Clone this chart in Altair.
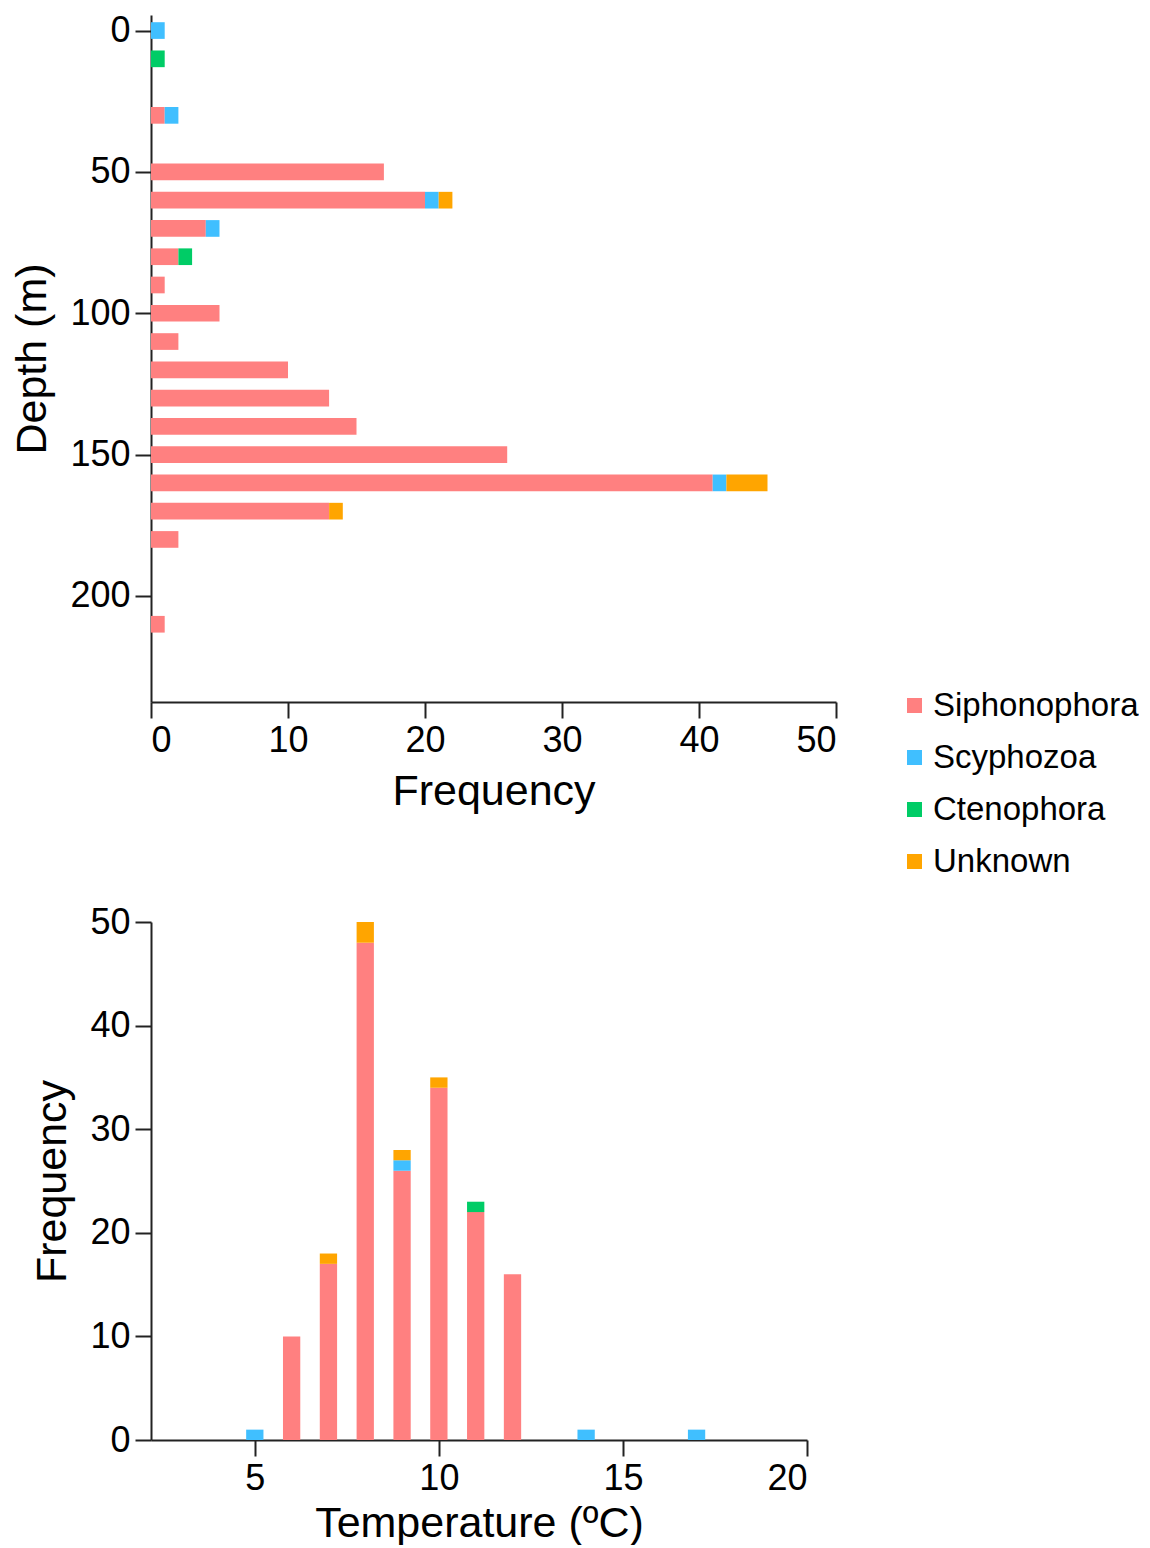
import altair as alt
import pandas as pd

species = ["Siphonophora", "Scyphozoa", "Ctenophora", "Unknown"]
colors = ["#FF8080", "#40BFFF", "#00CC66", "#FFA500"]

# Depth histogram (m)
depths = [0, 10, 20, 30, 40, 50, 60, 70, 80, 90, 100, 110, 120, 130, 140, 150, 160, 170, 180, 190, 200, 210]
siph_d = [0, 0, 0, 1, 0, 17, 20, 4, 2, 1, 5, 2, 10, 13, 15, 26, 41, 13, 2, 0, 0, 1]
scyph_d = [1, 0, 0, 1, 0, 0, 1, 1, 0, 0, 0, 0, 0, 0, 0, 0, 1, 0, 0, 0, 0, 0]
cten_d = [0, 1, 0, 0, 0, 0, 0, 0, 1, 0, 0, 0, 0, 0, 0, 0, 0, 0, 0, 0, 0, 0]
unk_d = [0, 0, 0, 0, 0, 0, 1, 0, 0, 0, 0, 0, 0, 0, 0, 0, 3, 1, 0, 0, 0, 0]

# Temperature histogram (ºC)
temps = [5, 6, 7, 8, 9, 10, 11, 12, 13, 14, 15, 16, 17]
siph_t = [0, 10, 17, 48, 26, 34, 22, 16, 0, 0, 0, 0, 0]
scyph_t = [1, 0, 0, 0, 1, 0, 0, 0, 0, 1, 0, 0, 1]
cten_t = [0, 0, 0, 0, 0, 0, 1, 0, 0, 0, 0, 0, 0]
unk_t = [0, 0, 1, 2, 1, 1, 0, 0, 0, 0, 0, 0, 0]

depth_ticks = [0, 50, 100, 150, 200]
freq_ticks_top = [0, 10, 20, 30, 40, 50]
temp_ticks = [5, 10, 15, 20]
freq_ticks_bottom = [0, 10, 20, 30, 40, 50]

rows_d = []
for k, (sp, vals) in enumerate(zip(species, [siph_d, scyph_d, cten_d, unk_d])):
    for d, v in zip(depths, vals):
        rows_d.append({"depth": d, "species": sp, "order": k, "count": v})
df_d = pd.DataFrame(rows_d)

rows_t = []
for k, (sp, vals) in enumerate(zip(species, [siph_t, scyph_t, cten_t, unk_t])):
    for t, v in zip(temps, vals):
        rows_t.append({"temp": t, "species": sp, "order": k, "count": v})
df_t = pd.DataFrame(rows_t)

top = (
    alt.Chart(df_d)
    .transform_filter("datum.count > 0")
    .transform_stack(stack="count", groupby=["depth"], as_=["x0", "x1"],
                     sort=[alt.SortField("order", order="ascending")])
    .transform_calculate(ya="datum.depth - 2.95", yb="datum.depth + 2.95")
    .mark_bar()
    .encode(
        x=alt.X("x0:Q", scale=alt.Scale(domain=[0, 50], nice=False),
                axis=alt.Axis(values=freq_ticks_top, title="Frequency", titlePadding=12)),
        x2="x1:Q",
        y=alt.Y("ya:Q", scale=alt.Scale(domain=[-5.5, 237.5], reverse=True, nice=False, zero=False),
                axis=alt.Axis(values=depth_ticks, title="Depth (m)")),
        y2="yb:Q",
        color=alt.Color("species:N", scale=alt.Scale(domain=species, range=colors),
                        legend=alt.Legend(title=None, orient="none", legendX=747, legendY=674,
                                          symbolType="square", symbolSize=225, symbolStrokeWidth=0,
                                          labelFontSize=33, rowPadding=18, labelOffset=2,
                                          labelLimit=400, padding=0, labelColor="black")),
    )
    .properties(width=685, height=687)
)

bottom = (
    alt.Chart(df_t)
    .transform_filter("datum.count > 0")
    .transform_stack(stack="count", groupby=["temp"], as_=["y0", "y1"],
                     sort=[alt.SortField("order", order="ascending")])
    .transform_calculate(xa="datum.temp - 0.235", xb="datum.temp + 0.235")
    .mark_bar()
    .encode(
        x=alt.X("xa:Q", scale=alt.Scale(domain=[2.18, 20], nice=False, zero=False),
                axis=alt.Axis(values=temp_ticks, title="Temperature (ºC)", titlePadding=6)),
        x2="xb:Q",
        y=alt.Y("y0:Q", scale=alt.Scale(domain=[0, 50], nice=False),
                axis=alt.Axis(values=freq_ticks_bottom, title="Frequency")),
        y2="y1:Q",
        color=alt.Color("species:N", scale=alt.Scale(domain=species, range=colors), legend=None),
    )
    .properties(width=656, height=518)
)

chart = (
    alt.vconcat(top, bottom, spacing=25, padding={"left": 3, "top": 4, "right": 0, "bottom": 0})
    .resolve_scale(color="independent")
    .configure(font="Liberation Sans")
    .configure_view(stroke=None)
    .configure_axis(
        grid=False,
        domainColor="#222222", domainWidth=2,
        tickColor="#222222", tickWidth=2, tickSize=16,
        labelFont="Liberation Sans", labelFontSize=36, labelColor="black", labelPadding=5,
        titleFont="Liberation Sans", titleFontSize=43, titleFontWeight="normal",
        titleColor="black", titlePadding=8,
    )
    .configure_axisY(titlePadding=15)
)

chart.save("out.html", embed_options={"renderer": "svg", "actions": False})
